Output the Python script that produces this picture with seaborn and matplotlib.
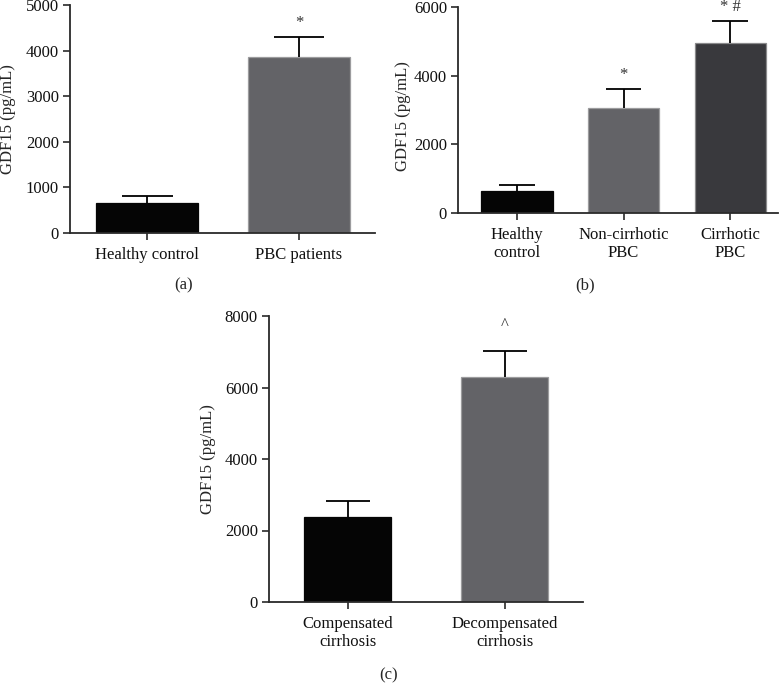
import matplotlib
matplotlib.use("Agg")
import matplotlib.pyplot as plt
import seaborn as sns
import pandas as pd
import numpy as np

# ---- data ----
a_cats = ["Healthy control", "PBC patients"]
a_means = [660, 3850]
a_err = [150, 450]
a_marks = ["", "*"]

b_cats = ["Healthy\ncontrol", "Non-cirrhotic\nPBC", "Cirrhotic\nPBC"]
b_means = [650, 3070, 4950]
b_err = [175, 550, 650]
b_marks = ["", "*", "* #"]

c_cats = ["Compensated\ncirrhosis", "Decompensated\ncirrhosis"]
c_means = [2370, 6280]
c_err = [460, 750]
c_marks = ["", "^"]

BLACK = "#050505"
GRAY = "#636367"
DARK = "#39393d"

sns.set_style("ticks")
plt.rcParams["font.family"] = ["Liberation Serif", "DejaVu Serif"]
FS = 12

W, H = 781, 684
fig = plt.figure(figsize=(W / 100, H / 100), dpi=100)


def px_axes(left, right, top, bottom):
    return fig.add_axes([left / W, 1 - bottom / H, (right - left) / W, (bottom - top) / H])


def panel(ax, cats, means, errs, marks, colors, edges, width, xlim, ymax, ystep, mark_off):
    df = pd.DataFrame({"cat": cats, "val": means})
    sns.barplot(data=df, x="cat", y="val", hue="cat", palette=colors, legend=False,
                width=width, ax=ax, saturation=1, errorbar=None, linewidth=0.9)
    for p, ec in zip(ax.patches, edges):
        p.set_edgecolor(ec)
    x = np.arange(len(cats))
    m = np.asarray(means, float)
    e = np.asarray(errs, float)
    ax.vlines(x, m, m + e, color="black", lw=1.3, zorder=3)
    ax.hlines(m + e, x - width / 4, x + width / 4, color="black", lw=1.3, zorder=3)
    for xi, mi, ei, mk in zip(x, m, e, marks):
        if mk:
            ax.text(xi, mi + ei + mark_off, mk, ha="center", va="bottom", fontsize=FS,
                    color="#333333", clip_on=False)
    ax.set_xlim(*xlim)
    ax.set_ylim(0, ymax)
    ax.set_yticks(np.arange(0, ymax + 1, ystep))
    ax.set_xlabel("")
    ax.set_ylabel("GDF15 (pg/mL)", fontsize=FS)
    ax.yaxis.label.set_va("center")
    sns.despine(ax=ax)
    for s in ("left", "bottom"):
        ax.spines[s].set_linewidth(1.3)
        ax.spines[s].set_color("#2a2a2a")
    ax.tick_params(axis="both", length=5, width=1.2, color="#2a2a2a", labelsize=FS,
                   labelcolor="#111111")
    ax.tick_params(axis="x", pad=5)
    ax.tick_params(axis="y", pad=3)


ax_a = px_axes(70, 375, 5, 233)
panel(ax_a, a_cats, a_means, a_err, a_marks, [BLACK, GRAY], [BLACK, "#9c9c9e"],
      0.67, (-0.507, 1.5), 5000, 1000, 140)
ax_a.yaxis.set_label_coords(-0.203, 0.5)

ax_b = px_axes(458, 778, 7, 213)
panel(ax_b, b_cats, b_means, b_err, b_marks, [BLACK, GRAY, DARK], [BLACK, "#9c9c9e", "#8a8a8c"],
      0.667, (-0.554, 2.45), 6000, 2000, 180)
ax_b.yaxis.set_label_coords(-0.172, 0.47)

ax_c = px_axes(269, 583, 316, 602)
panel(ax_c, c_cats, c_means, c_err, c_marks, [BLACK, GRAY], [BLACK, "#9c9c9e"],
      0.554, (-0.503, 1.497), 8000, 2000, 500)
ax_c.yaxis.set_label_coords(-0.194, 0.5)

fig.text(184 / W, 1 - 285 / H, "(a)", ha="center", va="center", fontsize=FS)
fig.text(585 / W, 1 - 285 / H, "(b)", ha="center", va="center", fontsize=FS)
fig.text(389 / W, 1 - 675 / H, "(c)", ha="center", va="center", fontsize=FS)

fig.savefig("out.png", dpi=100)
